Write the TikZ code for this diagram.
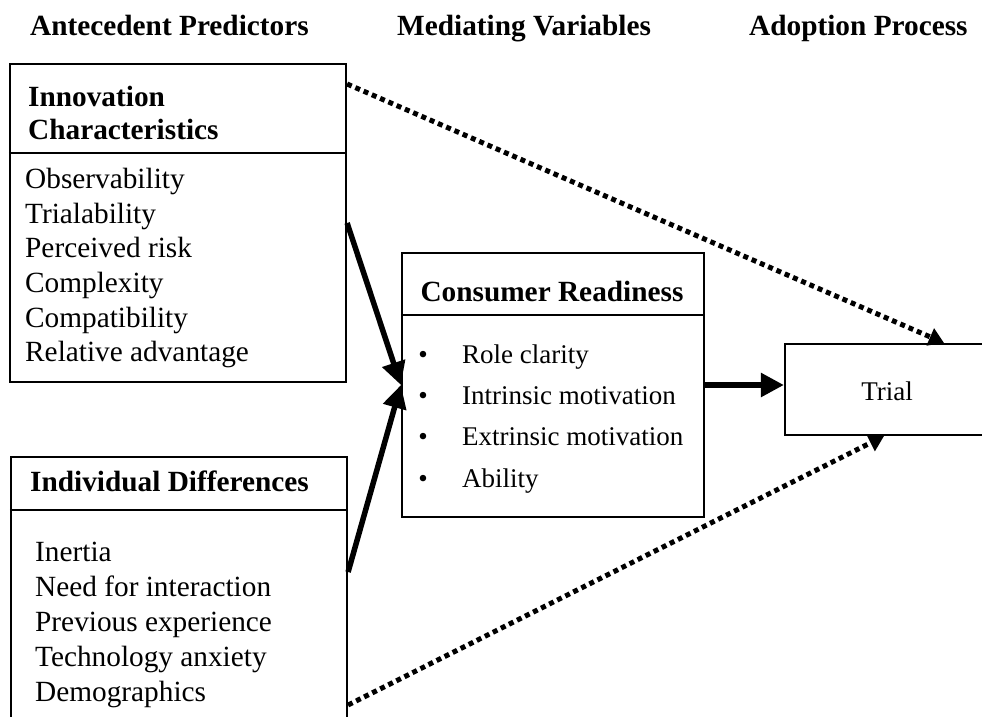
\documentclass[tikz,border=0pt]{standalone}
\usepackage{fontspec}
\setmainfont{Liberation Serif}
\usetikzlibrary{arrows.meta}
\begin{document}
\begin{tikzpicture}[x=1pt,y=-1pt,
  box/.style={draw,line width=2.2pt,inner sep=0pt,rectangle},
  rule/.style={line width=2pt},
  txt/.style={anchor=base west,inner sep=0pt,font=\fontsize{29.3}{34.5}\selectfont},
  small/.style={font=\fontsize{27}{32}\selectfont},
  hdr/.style={anchor=base west,inner sep=0pt,font=\fontsize{29.3}{33}\selectfont\bfseries},
  bul/.style={anchor=base,inner sep=0pt,font=\fontsize{27}{32}\selectfont},
  flow/.style={line width=5.5pt,-{Triangle[length=23pt,width=23pt]}},
  dots/.style={line width=5pt,dash pattern=on 5pt off 4pt,-{Triangle[length=15pt,width=18pt]}}]
\useasboundingbox (0,0) rectangle (982,717);
\clip (0,0) rectangle (982,717);

% column headings
\node[hdr] (h1) at (30,36) {Antecedent Predictors};
\node[hdr] (h2) at (397,36) {Mediating Variables};
\node[hdr] (h3) at (749,36) {Adoption Process};

% innovation characteristics
\node[box,minimum width=336pt,minimum height=318pt] (inno) at (178,223) {};
\draw[rule] (inno.west |- 0,153) -- (inno.east |- 0,153);
\node[hdr] (innoT1) at (28,106) {Innovation};
\node[hdr] (innoT2) at (28,139) {Characteristics};
\foreach \i/\t/\y in {1/Observability/188,2/Trialability/223,3/Perceived risk/257,4/Complexity/292,5/Compatibility/327,6/Relative advantage/361}{
  \node[txt] (ic\i) at (25,\y) {\t};
}

% individual differences
\node[box,minimum width=336pt,minimum height=283pt] (indiv) at (179,598.5) {};
\draw[rule] (indiv.west |- 0,510) -- (indiv.east |- 0,510);
\node[hdr] (indivT) at (30,491) {Individual Differences};
\foreach \i/\t/\y in {1/Inertia/561,2/Need for interaction/596,3/Previous experience/631,4/Technology anxiety/666,5/Demographics/701}{
  \node[txt] (id\i) at (35,\y) {\t};
}

% consumer readiness
\node[box,minimum width=302pt,minimum height=264pt] (mid) at (553,385) {};
\draw[rule] (mid.west |- 0,315) -- (mid.east |- 0,315);
\node[hdr,anchor=base] (midT) at (552,301) {Consumer Readiness};
\foreach \i/\t/\y in {1/Role clarity/363,2/Intrinsic motivation/404,3/Extrinsic motivation/445,4/Ability/487}{
  \node[bul] (b\i) at (423,\y) {\textbullet};
  \node[txt,small] (m\i) at (462,\y) {\t};
}

% trial
\node[box,minimum width=225pt,minimum height=91pt] (trial) at (897.5,389.5) {};
\node[txt,small,anchor=base] (trialT) at (887,400) {Trial};

% connectors
\coordinate (s1) at (inno.east |- 0,223);
\coordinate (s2) at (indiv.east |- 0,572);
\coordinate (d1) at (inno.east |- 0,84);
\coordinate (d2) at (indiv.east |- 0,705);
\coordinate (e1) at (trial.north -| 944,0);
\coordinate (e2) at (trial.south -| 884,0);
\draw[flow] (s1) -- (mid.west);
\draw[flow] (s2) -- (mid.west);
\draw[flow] (mid.east) -- (mid.east -| trial.west);
\draw[dots] (d1) -- (e1);
\draw[dots] (d2) -- (e2);
\end{tikzpicture}
\end{document}
